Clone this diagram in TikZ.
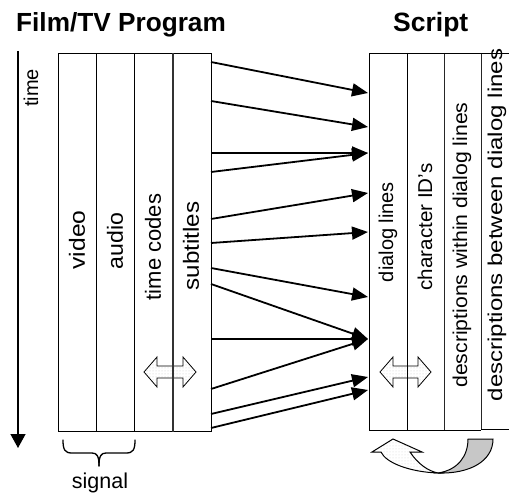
\documentclass[tikz,border=0pt]{standalone}
\usepackage{fontspec}
\setmainfont{Liberation Sans}
\usetikzlibrary{arrows.meta,patterns}
\begin{document}
\begin{tikzpicture}[x=1pt,y=-1pt,
  colbox/.style={draw=black,line width=0.9pt,minimum width=38pt,minimum height=378pt,inner sep=0pt,anchor=north west},
  vlabel/.style={rotate=90,font=\fontsize{20}{24}\selectfont,inner sep=0pt},
  llabel/.style={rotate=90,font=\fontsize{22}{26}\selectfont,inner sep=0pt},
  title/.style={font=\bfseries\fontsize{26.2}{30}\selectfont,anchor=base west,inner sep=0pt},
  link/.style={line width=1.8pt,-{Triangle[length=16pt,width=13pt]}},
  dbl/.style={draw=black,line width=0.8pt,pattern=dots,pattern color=gray!45},
  thindiv/.style={line width=0.75pt,draw=black!85}
]
\useasboundingbox (0,0) rectangle (509,494);

% titles
\node[title] (tl) at (16,32) {Film/TV Program};
\node[title,font=\bfseries\fontsize{26.5}{30}\selectfont] (tr) at (393,32) {Script};

% time axis
\coordinate (t0) at (18,51);
\coordinate (t1) at (18,448);
\draw[line width=1.4pt,-{Triangle[length=14pt,width=15pt]}] (t0) -- (t1);
\node[vlabel] (time) at (31,88) {time};

% left block columns
\node[colbox] (c1) at (58,53) {};
\node[colbox] (c2) at (96,53) {};
\node[colbox] (c3) at (134,53) {};
\node[colbox,minimum width=38pt] (c4) at (173,53) {};

% double arrow in left block
\draw[dbl] (144,372) -- (157,357) -- (157,366) -- (183,366) -- (183,357) -- (196,372)
  -- (183,387) -- (183,378) -- (157,378) -- (157,387) -- cycle;
\draw[line width=1.8pt,draw=black!80] (c4.north west) -- (c4.south west);

\node[llabel] (lv) at (77,240) {\scalebox{1.12}[1]{video}};
\node[llabel] (la) at (115,241) {\scalebox{1.05}[1]{audio}};
\node[llabel] (ltc) at (153,247) {time codes};
\node[llabel] (ls) at (191,246) {\scalebox{1.1}[1]{subtitles}};

% brace
\draw[line width=1.3pt,line cap=round] (63,440) .. controls (63,450) and (65,453) .. (72,453)
  -- (92,453) .. controls (97,453) and (99,456) .. (99,466);
\draw[line width=1.3pt,line cap=round] (135,440) .. controls (135,450) and (133,453) .. (126,453)
  -- (106,453) .. controls (101,453) and (99,456) .. (99,466);
\coordinate (br) at (99,466);
\node[font=\fontsize{21.5}{24}\selectfont,anchor=base,inner sep=0pt] (sig) at (100,488) {signal};

% right block
\node[colbox,minimum width=38pt,minimum height=377pt] (r1) at (369,53) {};
\node[colbox,minimum width=37pt,minimum height=377pt] (r2) at (407,53) {};
\draw[thindiv] (444,53) -- (444,430);
\draw[thindiv] (481,53) -- (481,430);
\draw[line width=0.9pt] (444,53) -- (509,53);
\draw[line width=0.9pt] (444,430) -- (481,430);
\draw[line width=0.9pt] (481,429) -- (509,429);

\draw[dbl] (380,372) -- (393,357) -- (393,366) -- (418,366) -- (418,357) -- (431,372)
  -- (418,387) -- (418,378) -- (393,378) -- (393,387) -- cycle;
\draw[line width=0.9pt] (r2.north west) -- (r2.south west);

\node[vlabel] (rd) at (388,232) {dialog lines};
\node[vlabel] (rc) at (425,227) {\scalebox{1.03}[1]{character ID's}};
\node[vlabel] (rw) at (462,245) {\scalebox{1.06}[1]{descriptions within dialog lines}};
\node[vlabel] (rb) at (497,225) {\scalebox{1.2}[1]{descriptions between dialog lines}};

% links
\coordinate (s1) at (211,62);   \coordinate (e1) at (368,93);
\coordinate (s2) at (211,101);  \coordinate (e2) at (368,127);
\coordinate (s3) at (211,153);  \coordinate (e3) at (368,153);
\coordinate (s4) at (211,172);
\coordinate (s5) at (211,219);  \coordinate (e5) at (368,193);
\coordinate (s6) at (211,243);  \coordinate (e6) at (368,232);
\coordinate (s7) at (211,268);  \coordinate (e7) at (368,297);
\coordinate (s8) at (211,284);  \coordinate (e8) at (368,339);
\coordinate (s9) at (211,339);
\coordinate (s10) at (211,389);
\coordinate (s11) at (211,414); \coordinate (e11) at (368,377);
\coordinate (s12) at (211,428); \coordinate (e12) at (368,390);
\draw[link] (s1) -- (e1);
\draw[link] (s2) -- (e2);
\draw[link] (s3) -- (e3);
\draw[link] (s4) -- (e3);
\draw[link] (s5) -- (e5);
\draw[link] (s6) -- (e6);
\draw[link] (s7) -- (e7);
\draw[link] (s8) -- (e8);
\draw[link] (s9) -- (e8);
\draw[link] (s10) -- (e8);
\draw[link] (s11) -- (e11);
\draw[link] (s12) -- (e12);

% curved u-turn arrow
\draw[line width=1pt,pattern=dots,pattern color=gray!35] (438,473) .. controls (410,472) and (386,463) .. (381,452)
  -- (372,452) -- (393,439) -- (422,452) -- (410,452) .. controls (418,464) and (428,471) .. (438,473) -- cycle;
\draw[line width=1pt,fill=black!22] (438,473) .. controls (458,470) and (468,456) .. (468,439)
  -- (493,439) .. controls (493,461) and (470,474) .. (438,473) -- cycle;
\end{tikzpicture}
\end{document}
